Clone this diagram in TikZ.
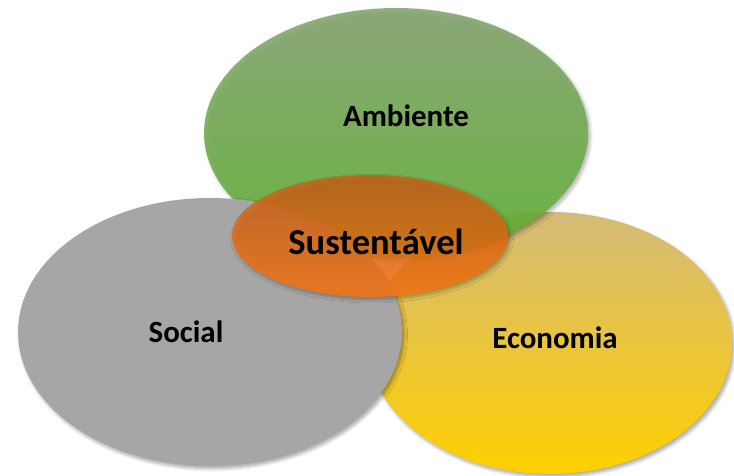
\documentclass[tikz,border=0pt]{standalone}
\usepackage{fontspec}
\setmainfont{Carlito}
\usetikzlibrary{shapes.geometric, shadows.blur}
\tikzset{
  sphere/.style={
    ellipse,
    inner sep=0pt,
    draw=none,
    blur shadow={shadow xshift=1.2pt, shadow yshift=-1.5pt, shadow blur steps=6, shadow opacity=35}
  },
  sphere label/.style={
    font=\bfseries\fontsize{17.6}{20}\selectfont,
    text=black
  }
}

\begin{document}
\begin{tikzpicture}[x=0.02cm, y=-0.02cm]
    \useasboundingbox (0,0) rectangle (734,476);

    % Economia (fundo)
    \node[sphere, minimum width=7.28cm, minimum height=5.24cm,
          top color={rgb,255:red,212;green,186;blue,122},
          bottom color={rgb,255:red,255;green,208;blue,0}] (Economia) at (550,343) {};

    % Ambiente, um pouco transparente sobre a economia
    \node[sphere, minimum width=7.68cm, minimum height=5.0cm, fill opacity=0.88,
          top color={rgb,255:red,132;green,166;blue,112},
          bottom color={rgb,255:red,96;green,178;blue,48}] (Ambiente) at (396,133) {};

    % Social
    \node[sphere, minimum width=7.68cm, minimum height=5.36cm,
          fill={rgb,255:red,166;green,166;blue,166}] (Social) at (210,332) {};

    % Sustentavel por cima de tudo
    \node[sphere, minimum width=5.52cm, minimum height=2.44cm, fill opacity=0.82,
          top color={rgb,255:red,200;green,96;blue,24},
          bottom color={rgb,255:red,255;green,120;blue,16}] (Sustentavel) at (370,236) {};

    % textos
    \node[sphere label] (tAmbiente) at (406,116) {Ambiente};
    \node[sphere label] (tSocial) at (186,332) {Social};
    \node[sphere label] (tEconomia) at (555,338) {Economia};
    \node[sphere label, font=\bfseries\fontsize{20.8}{24}\selectfont] (tSustentavel) at (376,242) {Sustentável};

\end{tikzpicture}
\end{document}
